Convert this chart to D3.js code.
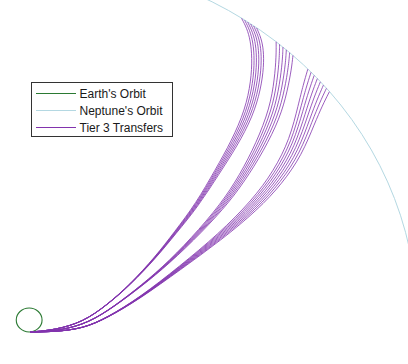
<!DOCTYPE html>
<html>
<head>
<meta charset="utf-8">
<script src="https://cdn.jsdelivr.net/npm/d3@7"></script>
<style>
  html, body { margin: 0; padding: 0; background: #fff; }
  svg { display: block; }
  text { font-family: "Liberation Sans", Arial, Helvetica, sans-serif; }
</style>
</head>
<body>
<svg id="chart" width="408" height="364"></svg>
<script>
// Orbit radii (AU)
const earthRadius = 1.0;
const neptuneRadius = 30.07;

// Axis limits (AU), heliocentric frame
const xLimits = [-2.26, 29.36];
const yLimits = [-3.67, 26.67];

// Nominal trajectory of each transfer family, [x, y] in AU
const familyA = [
  [0.10, -1.00], [2.00, -0.83], [4.17, -0.17], [6.03, 1.25], [7.81, 2.92],
  [9.83, 5.25], [11.30, 7.25], [13.01, 9.58], [14.60, 12.40], [15.90, 14.70],
  [17.04, 17.25], [17.58, 19.58], [17.74, 21.50], [17.66, 22.92], [17.43, 23.92],
  [17.05, 24.75]
];
const familyB = [
  [0.10, -1.00], [2.00, -0.93], [4.17, -0.42], [6.03, 0.69], [8.19, 2.42],
  [10.29, 4.25], [12.62, 6.67], [15.00, 9.50], [16.50, 11.80], [17.89, 14.42],
  [19.05, 17.25], [19.52, 19.58], [19.75, 21.50], [19.80, 22.63]
];
const familyC = [
  [0.10, -1.00], [2.00, -0.98], [4.17, -0.71], [6.03, 0.17], [8.59, 1.83],
  [11.69, 4.33], [14.79, 6.92], [17.50, 9.58], [19.29, 11.90], [20.68, 14.42],
  [21.53, 17.25], [22.00, 18.75], [22.45, 19.98]
];

// Departure-date spread within each family: arrival-angle offset at Neptune (deg)
const shiftsA = [-1.35, -0.81, -0.27, 0.27, 0.81, 1.35];
const shiftsB = [-1.65, -0.99, -0.33, 0.33, 0.99, 1.65];
const shiftsC = [-2.40, -1.71, -1.03, -0.34, 0.34, 1.03, 1.71, 2.40];

const legendLabels = ["Earth's Orbit", "Neptune's Orbit", "Tier 3 Transfers"];
const colors = { earth: "#2b7a33", neptune: "#b4d8e2", transfer: "#8233ad" };

const W = 408, H = 364;
const svg = d3.select("#chart");

const x = d3.scaleLinear().domain(xLimits).range([0, W]);
const y = d3.scaleLinear().domain(yLimits).range([H, 0]);

// Orbits as ellipses (x and y scales differ slightly)
function orbit(r, color, width) {
  svg.append("ellipse")
    .attr("cx", x(0)).attr("cy", y(0))
    .attr("rx", x(r) - x(0)).attr("ry", y(0) - y(r))
    .attr("fill", "none")
    .attr("stroke", color)
    .attr("stroke-width", width);
}
orbit(earthRadius, colors.earth, 1.1);
orbit(neptuneRadius, colors.neptune, 1.0);

// Transfer trajectories
const line = d3.line()
  .x(d => x(d[0]))
  .y(d => y(d[1]))
  .curve(d3.curveBasis);

// Offsets grow with heliocentric distance: the family shares its Earth departure
// and fans out on the way to Neptune.
function spread(pts, deg) {
  return pts.map(([px, py]) => {
    const r = Math.hypot(px, py);
    const a = deg * Math.PI / 180 * Math.pow(r / neptuneRadius, 1.5);
    const c = Math.cos(a), s = Math.sin(a);
    return [px * c - py * s, px * s + py * c];
  });
}

const families = [
  { path: familyA, shifts: shiftsA },
  { path: familyB, shifts: shiftsB },
  { path: familyC, shifts: shiftsC }
];

const gT = svg.append("g");
families.forEach(f => {
  f.shifts.forEach(sh => {
    gT.append("path")
      .attr("d", line(spread(f.path, sh)))
      .attr("fill", "none")
      .attr("stroke", colors.transfer)
      .attr("stroke-width", 0.8);
  });
});

// Legend
const lg = svg.append("g").attr("transform", "translate(31.5,82.5)");
lg.append("rect")
  .attr("width", 141).attr("height", 54)
  .attr("fill", "#fff").attr("stroke", "#333").attr("stroke-width", 1);
const legendColors = [colors.earth, colors.neptune, colors.transfer];
legendLabels.forEach((lab, i) => {
  const yy = 11 + i * 17;
  lg.append("line")
    .attr("x1", 4.5).attr("x2", 44.5)
    .attr("y1", yy).attr("y2", yy)
    .attr("stroke", legendColors[i]).attr("stroke-width", 1.1);
  lg.append("text")
    .attr("x", 48).attr("y", yy).attr("dy", "0.36em")
    .attr("font-size", 12).attr("fill", "#1a1a1a")
    .text(lab);
});
</script>
</body>
</html>
